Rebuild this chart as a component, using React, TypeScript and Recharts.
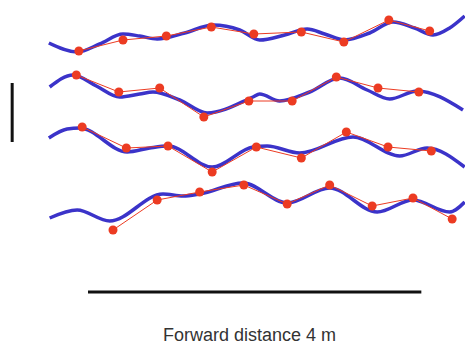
import { LineChart, Line, XAxis, YAxis } from "recharts";

// x: forward distance (dm), second value: lateral deviation (cm, + = left/up)
const trace1 = [[0.1, -8], [3.5, -17], [6.2, -9], [9.0, 1], [11.0, -1], [13.1, -4], [16.4, 2], [19.8, 10], [23.0, 5], [25.4, -5], [28.4, 0], [31.1, 6], [33.2, 1], [35.6, -5], [38.6, 2], [41.4, 13], [44.0, 7], [46.2, 0], [48.2, 7], [50.0, 19]];
const trace2 = [[0.2, 6], [3.0, 18], [5.8, 7], [8.6, -4], [11.0, -1], [12.6, 1], [15.8, -7], [19.1, -20], [24.6, -4], [25.4, -1], [27.8, -8], [31.4, 1], [35.0, 15], [38.3, 3], [41.0, -6], [44.3, 2], [49.8, -17]];
const trace3 = [[0.1, 10], [2.3, 19], [3.8, 20], [9.5, -4], [12.2, 0], [14.4, 2], [19.7, -19], [24.6, 1], [26.3, 2], [30.2, -5], [36.6, 11], [42.2, -8], [45.5, 0], [50.0, -19]];
const trace4 = [[0.2, -16], [3.5, -8], [7.4, -19], [13.8, 8], [16.2, 6], [18.2, 8], [23.4, 19], [28.7, -1], [33.8, 14], [39.5, -10], [43.8, 2], [48.2, -10], [50.0, 0]];

const steps1 = [[3.7, -16], [9.0, -5], [14.2, -1], [19.6, 8], [24.7, 1], [30.4, 3], [35.5, -7], [40.9, 15], [45.8, 4]];
const steps2 = [[3.4, 18], [8.5, 1], [13.4, 5], [18.7, -24], [24.1, -8], [29.3, -8], [34.6, 16], [39.6, 5], [44.5, 1]];
const steps3 = [[4.1, 21], [9.4, 0], [14.4, 2], [19.7, -24], [25.0, 1], [30.4, -10], [35.8, 16], [40.8, 1], [46.0, -3]];
const steps4 = [[7.8, -28], [13.1, 2], [18.2, 10], [23.5, 17], [28.7, -2], [33.8, 17], [38.9, -4], [43.8, 4], [48.5, -17]];

// where each trial row sits on the page, in the same lateral units
const rowOffsets = [35, 93, 148, 202];

const distanceBar = [[4.8, -292], [44.8, -292]];
const lateralBar = [[-4.3, -83], [-4.3, -142]];

const BLUE = "#3b33c9";
const RED = "#ec3b22";

const toPoints = (pts: number[][], offset: number) => pts.map(([x, lat]) => ({ x, y: -offset + lat }));
const toXY = (pts: number[][]) => pts.map(([x, y]) => ({ x, y }));

const traces = [trace1, trace2, trace3, trace4];
const steps = [steps1, steps2, steps3, steps4];

export default function App() {
  return (
    <div style={{ position: "absolute", left: 0, top: 0, width: 465, height: 347, background: "#fff" }}>
      <LineChart width={465} height={347} margin={{ top: 0, right: 0, bottom: 0, left: 0 }}>
        <XAxis type="number" dataKey="x" domain={[-5.76, 50.04]} hide allowDataOverflow />
        <YAxis type="number" dataKey="y" domain={[-347, 0]} hide allowDataOverflow />
        {traces.map((t, i) => (
          <Line
            key={"t" + i}
            data={toPoints(t, rowOffsets[i])}
            dataKey="y"
            type="monotone"
            stroke={BLUE}
            strokeWidth={3.5}
            dot={false}
            activeDot={false}
            isAnimationActive={false}
          />
        ))}
        {steps.map((s, i) => (
          <Line
            key={"s" + i}
            data={toPoints(s, rowOffsets[i])}
            dataKey="y"
            type="linear"
            stroke={RED}
            strokeWidth={1}
            dot={{ r: 4.5, fill: RED, stroke: RED, strokeWidth: 0 }}
            activeDot={false}
            isAnimationActive={false}
          />
        ))}
        <Line data={toXY(distanceBar)} dataKey="y" type="linear" stroke="#111" strokeWidth={3} dot={false} activeDot={false} isAnimationActive={false} />
        <Line data={toXY(lateralBar)} dataKey="y" type="linear" stroke="#111" strokeWidth={3} dot={false} activeDot={false} isAnimationActive={false} />
      </LineChart>
      <div
        style={{
          position: "absolute",
          left: 163,
          top: 325,
          fontFamily: "Arial, 'Liberation Sans', sans-serif",
          fontSize: 18,
          lineHeight: "20px",
          color: "#333",
          whiteSpace: "nowrap",
        }}
      >
        Forward distance 4 m
      </div>
    </div>
  );
}
